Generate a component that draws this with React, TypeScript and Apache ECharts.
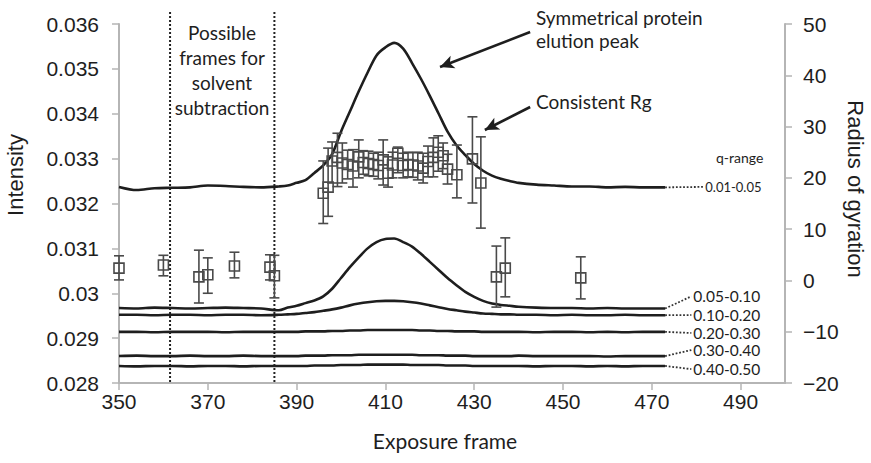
import React, { useEffect, useRef } from 'react';
import * as echarts from 'echarts';

// Exposure frames sampled for the intensity traces
const frames = [350, 354, 358, 362, 366, 370, 374, 378, 382, 386, 388, 390, 392, 394, 396, 398, 400, 402, 404, 406, 408, 410, 412, 414, 416, 418, 420, 422, 424, 426, 428, 430, 432, 434, 436, 438, 440, 444, 448, 452, 456, 460, 464, 468, 473];

// Intensity traces per q-range (left axis)
const q0105 = [0.03237, 0.03230, 0.03234, 0.03235, 0.03236, 0.03240, 0.03239, 0.03237, 0.03236, 0.03238, 0.03240, 0.03246, 0.03252, 0.03268, 0.03285, 0.03310, 0.03360, 0.03405, 0.03450, 0.03492, 0.03530, 0.03548, 0.03558, 0.03545, 0.03513, 0.03478, 0.03440, 0.03400, 0.03360, 0.03330, 0.03308, 0.03288, 0.03273, 0.03262, 0.03255, 0.03250, 0.03246, 0.03242, 0.03240, 0.03238, 0.03238, 0.03236, 0.03237, 0.03236, 0.03236];
const q0510 = [0.02967, 0.02966, 0.02968, 0.02967, 0.02966, 0.02967, 0.02968, 0.02967, 0.02966, 0.02962, 0.02968, 0.02972, 0.02978, 0.02984, 0.02993, 0.03010, 0.03034, 0.03058, 0.03080, 0.03100, 0.03114, 0.03121, 0.03122, 0.03114, 0.03104, 0.03088, 0.03070, 0.03052, 0.03034, 0.03018, 0.03003, 0.02992, 0.02983, 0.02977, 0.02974, 0.02972, 0.02970, 0.02968, 0.02967, 0.02967, 0.02966, 0.02967, 0.02966, 0.02966, 0.02966];
const q1020 = [0.02952, 0.02952, 0.02951, 0.02952, 0.02952, 0.02951, 0.02952, 0.02952, 0.02951, 0.02952, 0.02953, 0.02954, 0.02956, 0.02958, 0.02961, 0.02964, 0.02968, 0.02973, 0.02977, 0.02980, 0.02982, 0.02983, 0.02983, 0.02982, 0.02980, 0.02977, 0.02973, 0.02969, 0.02965, 0.02962, 0.02959, 0.02957, 0.02955, 0.02954, 0.02953, 0.02953, 0.02952, 0.02952, 0.02951, 0.02952, 0.02951, 0.02951, 0.02952, 0.02951, 0.02951];
const q2030 = [0.02914, 0.02914, 0.02913, 0.02914, 0.02914, 0.02914, 0.02913, 0.02914, 0.02914, 0.02914, 0.02914, 0.02914, 0.02915, 0.02915, 0.02915, 0.02916, 0.02916, 0.02917, 0.02917, 0.02918, 0.02918, 0.02918, 0.02918, 0.02918, 0.02918, 0.02917, 0.02917, 0.02916, 0.02916, 0.02915, 0.02915, 0.02915, 0.02914, 0.02914, 0.02914, 0.02914, 0.02914, 0.02913, 0.02914, 0.02914, 0.02913, 0.02914, 0.02913, 0.02914, 0.02914];
const q3040 = [0.02860, 0.02861, 0.02860, 0.02860, 0.02861, 0.02860, 0.02860, 0.02861, 0.02860, 0.02860, 0.02860, 0.02860, 0.02861, 0.02861, 0.02861, 0.02862, 0.02862, 0.02862, 0.02863, 0.02863, 0.02863, 0.02863, 0.02863, 0.02863, 0.02863, 0.02862, 0.02862, 0.02862, 0.02861, 0.02861, 0.02861, 0.02860, 0.02860, 0.02860, 0.02860, 0.02860, 0.02861, 0.02860, 0.02860, 0.02860, 0.02860, 0.02859, 0.02860, 0.02860, 0.02860];
const q4050 = [0.02838, 0.02837, 0.02838, 0.02838, 0.02837, 0.02838, 0.02838, 0.02837, 0.02838, 0.02838, 0.02838, 0.02838, 0.02838, 0.02839, 0.02839, 0.02839, 0.02840, 0.02840, 0.02840, 0.02841, 0.02841, 0.02841, 0.02841, 0.02841, 0.02840, 0.02840, 0.02840, 0.02840, 0.02839, 0.02839, 0.02839, 0.02838, 0.02838, 0.02838, 0.02838, 0.02838, 0.02838, 0.02837, 0.02838, 0.02838, 0.02837, 0.02838, 0.02837, 0.02838, 0.02838];

const rangeNames = ['0.01-0.05', '0.05-0.10', '0.10-0.20', '0.20-0.30', '0.30-0.40', '0.40-0.50'];
const labelAnchorX = [481.6, 478.9, 478.9, 478.9, 478.9, 478.9];
const labelAnchorY = [0.03237, 0.02993, 0.029515, 0.029114, 0.028735, 0.02831];
const labelSizes = [13, 15.5, 15.5, 15.5, 15.5, 15.5];

// Radius of gyration with error bars (right axis)
const rgFrames = [350, 360, 368, 370, 376, 384, 385, 396.0, 397.1, 398.0, 399.2, 400.3, 401.5, 402.7, 404.0, 405.0, 406.2, 407.3, 408.4, 409.5, 410.6, 411.6, 412.8, 414.0, 415.1, 416.2, 417.3, 418.5, 419.6, 420.8, 421.9, 423.0, 424.0, 426.1, 429.6, 431.5, 435, 437, 454];
const rgValues = [2.4, 3.0, 0.7, 1.1, 2.8, 2.6, 0.9, 17.0, 18.2, 23.3, 24.0, 22.9, 22.6, 22.3, 24.1, 23.0, 22.8, 22.6, 22.4, 23.5, 20.9, 22.5, 24.8, 22.4, 22.6, 22.5, 22.3, 21.9, 23.2, 24.0, 25.0, 24.3, 21.7, 20.6, 23.7, 19.0, 0.7, 2.4, 0.5];
const rgHigh = [4.8, 4.9, 5.9, 4.4, 5.5, 5.0, 4.9, 23.3, 25.8, 27.0, 28.7, 26.8, 25.4, 25.5, 27.4, 25.3, 25.2, 24.8, 25.0, 27.4, 24.1, 25.0, 26.0, 24.8, 25.0, 24.9, 25.0, 24.8, 26.2, 27.8, 28.2, 26.8, 24.6, 26.4, 31.9, 28.0, 6.7, 8.3, 4.6];
const rgLow = [0.1, 0.9, -4.4, -2.5, 0.5, 0.1, -3.4, 11.1, 12.5, 19.0, 18.3, 19.0, 19.8, 18.2, 20.0, 20.7, 20.4, 20.3, 19.8, 18.6, 18.2, 20.0, 21.0, 20.0, 20.2, 20.1, 19.6, 19.0, 20.2, 20.2, 21.3, 21.8, 18.8, 16.1, 15.1, 10.2, -5.2, -3.2, -3.6];

// Possible solvent-subtraction frames (dotted verticals)
const solventFrames = [361.5, 385.0];

// Annotation arrows [fromFrame, fromIntensity, toFrame, toIntensity]
const arrows = [
  [442.6, 0.035822, 422.3, 0.035042],
  [442.6, 0.03415, 432.4, 0.033638],
];

const NUM_FONT = 'Liberation Sans, Arial, sans-serif';
const TXT_FONT = 'Lato, Open Sans, sans-serif';
const AXIS_GRAY = '#b5b5b5';
const INK = '#1e1e1e';

export default function App() {
  const ref = useRef<HTMLDivElement>(null);
  useEffect(() => {
    document.body.style.margin = '0';
    if (!ref.current) return;
    const chart = echarts.init(ref.current, null, { renderer: 'svg' });
    const curves = [q0105, q0510, q1020, q2030, q3040, q4050];
    const last = frames.length - 1;

    const curveSeries = curves.map((vals, i) => ({
      type: 'line',
      yAxisIndex: 0,
      data: frames.map((f, j) => [f, vals[j]]),
      showSymbol: false,
      symbol: 'none',
      smooth: 0.3,
      silent: true,
      z: 3,
      lineStyle: { color: INK, width: 2.6 },
      ...(i === 0
        ? {
            markLine: {
              silent: true,
              symbol: ['none', 'arrow'],
              symbolSize: [10, 14],
              label: { show: false },
              lineStyle: { color: INK, width: 2.6, type: 'solid' },
              data: arrows.map((a) => [{ coord: [a[0], a[1]] }, { coord: [a[2], a[3]] }]),
            },
          }
        : {}),
    }));

    const connectorSeries = curves.map((vals, i) => ({
      type: 'line',
      yAxisIndex: 0,
      data: [
        [frames[last], vals[last]],
        [labelAnchorX[i], labelAnchorY[i]],
      ],
      symbol: 'none',
      showSymbol: false,
      silent: true,
      clip: false,
      lineStyle: { color: '#333', width: 1.8, type: 'dotted' },
      endLabel: {
        show: true,
        formatter: rangeNames[i],
        distance: 2,
        fontFamily: TXT_FONT,
        fontSize: labelSizes[i],
        lineHeight: labelSizes[i],
        color: INK,
      },
    }));

    const solventSeries = solventFrames.map((f) => ({
      type: 'line',
      yAxisIndex: 0,
      data: [
        [f, 0.036265],
        [f, 0.028],
      ],
      symbol: 'none',
      showSymbol: false,
      silent: true,
      clip: false,
      lineStyle: { color: '#222', width: 2, type: [2, 2] },
    }));

    const rgSeries = {
      type: 'custom',
      yAxisIndex: 1,
      silent: true,
      z: 4,
      data: rgFrames.map((f, i) => [f, rgValues[i], rgLow[i], rgHigh[i]]),
      encode: { x: 0, y: 1 },
      renderItem: (params: any, api: any) => {
        const x = api.value(0);
        const p = api.coord([x, api.value(1)]);
        const lo = api.coord([x, api.value(2)]);
        const hi = api.coord([x, api.value(3)]);
        const cap = 5;
        const half = 5;
        const st = { stroke: '#4a4a4a', lineWidth: 1.6, fill: 'none' };
        return {
          type: 'group',
          children: [
            { type: 'line', shape: { x1: p[0], y1: hi[1], x2: p[0], y2: lo[1] }, style: st },
            { type: 'line', shape: { x1: p[0] - cap, y1: hi[1], x2: p[0] + cap, y2: hi[1] }, style: st },
            { type: 'line', shape: { x1: p[0] - cap, y1: lo[1], x2: p[0] + cap, y2: lo[1] }, style: st },
            { type: 'rect', shape: { x: p[0] - half, y: p[1] - half, width: half * 2, height: half * 2 }, style: st },
          ],
        };
      },
    };

    const axisCommon = {
      axisLine: { show: true, onZero: false, lineStyle: { color: AXIS_GRAY, width: 2 } },
      axisTick: { show: true, inside: false, length: 7, lineStyle: { color: AXIS_GRAY, width: 1.5 } },
      splitLine: { show: false },
    };

    chart.setOption({
      animation: false,
      grid: { left: 119, right: 86, top: 24, bottom: 80, containLabel: false, outerBoundsMode: 'none' },
      xAxis: {
        type: 'value',
        min: 350,
        max: 500,
        interval: 20,
        ...axisCommon,
        axisLabel: {
          fontFamily: NUM_FONT,
          fontSize: 21,
          color: INK,
          margin: 8,
          showMaxLabel: false,
          formatter: (v: number) => (v >= 500 ? '' : String(v)),
        },
      },
      yAxis: [
        {
          type: 'value',
          position: 'left',
          min: 0.028,
          max: 0.036,
          interval: 0.001,
          ...axisCommon,
          axisLabel: {
            fontFamily: NUM_FONT,
            fontSize: 21,
            color: INK,
            margin: 20,
            formatter: (v: number) => String(parseFloat(v.toFixed(3))),
          },
        },
        {
          type: 'value',
          position: 'right',
          min: -20,
          max: 50,
          interval: 10,
          ...axisCommon,
          axisLabel: {
            fontFamily: NUM_FONT,
            fontSize: 21,
            color: INK,
            margin: 18,
            formatter: (v: number) => String(Math.round(v)).replace('-', '\u2212'),
          },
        },
      ],
      graphic: [
        { type: 'text', x: 15, y: 175, rotation: Math.PI / 2, style: { text: 'Intensity', font: '22px ' + NUM_FONT, fill: INK, textAlign: 'center', textVerticalAlign: 'middle' } },
        { type: 'text', x: 855, y: 189, rotation: -Math.PI / 2, style: { text: 'Radius of gyration', font: '22px ' + NUM_FONT, fill: INK, textAlign: 'center', textVerticalAlign: 'middle' } },
        { type: 'text', x: 445, y: 440, style: { text: 'Exposure frame', font: '21px ' + TXT_FONT, fill: INK, textAlign: 'center', textVerticalAlign: 'middle' } },
        { type: 'text', x: 222, y: 20, style: { text: 'Possible\nframes for\nsolvent\nsubtraction', font: '19px ' + TXT_FONT, lineHeight: 25, fill: INK, textAlign: 'center', textVerticalAlign: 'top' } },
        { type: 'text', x: 536, y: 6, style: { text: 'Symmetrical protein\nelution peak', font: '19px ' + TXT_FONT, lineHeight: 23, fill: INK, textAlign: 'left', textVerticalAlign: 'top' } },
        { type: 'text', x: 536, y: 92, style: { text: 'Consistent Rg', font: '19px ' + TXT_FONT, fill: INK, textAlign: 'left', textVerticalAlign: 'top' } },
        { type: 'text', x: 716, y: 150, style: { text: 'q-range', font: '14px ' + TXT_FONT, fill: INK, textAlign: 'left', textVerticalAlign: 'top' } },
      ],
      series: [...solventSeries, ...curveSeries, ...connectorSeries, rgSeries],
    });
    return () => chart.dispose();
  }, []);
  return <div ref={ref} style={{ width: 871, height: 463 }} />;
}
